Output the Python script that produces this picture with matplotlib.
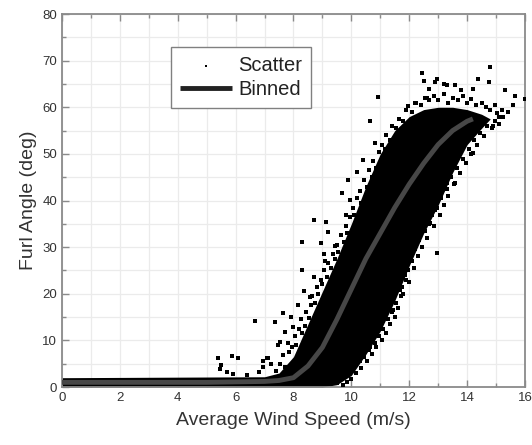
import matplotlib
matplotlib.use("Agg")
import matplotlib.pyplot as plt
import numpy as np

plt.rcParams["font.family"] = ["Liberation Sans", "DejaVu Sans"]

# ── Binned mean curve ────────────────────────────────────────────────────────
bin_speed = [0, 1, 2, 3, 4, 5, 6, 7, 7.5, 8.0, 8.5, 9.0, 9.5, 10.0, 10.5,
             11.0, 11.5, 12.0, 12.5, 13.0, 13.5, 14.0, 14.2]
bin_furl = [1.0, 1.0, 1.0, 1.0, 1.0, 1.0, 1.1, 1.2, 1.4, 2.0, 4.5, 8.5, 14.5,
            21.0, 27.5, 33.0, 38.5, 43.5, 48.0, 52.0, 55.0, 57.0, 57.5]

# ── Solid core of the scatter cloud: lower / upper edge per wind speed ───────
core_speed = [0, 7.0, 7.5, 8.0, 8.5, 9.0, 9.5, 10.0, 10.5, 11.0, 11.5, 12.0,
              12.5, 13.0, 13.5, 14.0, 14.5, 14.8]
core_hi = [2.0, 2.2, 3.0, 6.5, 13.5, 20.5, 27.5, 35.0, 43.0, 50.0, 55.0,
           58.0, 59.5, 60.0, 60.0, 59.5, 58.5, 57.5]
core_lo = [0, 0, 0, 0, 0, 0, 0.5, 2.5, 7.0, 12.0, 18.5, 26.0, 33.0, 39.0,
           46.0, 52.0, 55.5, 57.5]

# ── Speckled points along the upper-left edge of the cloud ──────────────────
left_speed = [7.4, 7.55, 7.7, 7.65, 7.85, 7.8, 7.95, 8.05, 8.1, 8.2, 8.3, 8.25,
              8.4, 8.45, 8.55, 8.6, 8.65, 8.75, 8.8, 8.85, 8.95, 9.0, 9.05,
              9.15, 9.2, 9.3, 9.35, 9.45, 9.5, 9.55, 9.65, 9.75, 9.8, 9.85,
              9.95, 10.05, 10.1, 10.2, 10.3, 10.35, 10.45, 10.55, 10.6, 10.7,
              10.75, 10.85, 10.95, 11.05, 11.15, 11.2, 11.35, 11.4, 11.55,
              11.65, 11.8, 11.9, 12.1, 12.2, 12.4, 12.55, 12.7, 12.85, 13.0,
              13.2, 13.35, 13.5, 13.7, 13.85, 14.0, 14.15, 14.3, 14.5, 14.65,
              14.8, 14.95, 15.05, 15.2]
left_furl = [3.5, 5.0, 4.2, 6.8, 7.5, 9.5, 8.5, 11.0, 9.0, 12.5, 11.5, 14.5,
             13.0, 16.0, 14.8, 17.5, 19.5, 18.0, 21.5, 20.0, 23.0, 22.0, 25.0,
             23.5, 26.5, 25.5, 28.5, 27.5, 30.5, 29.0, 32.5, 31.0, 34.5, 33.0,
             36.5, 38.5, 37.0, 40.5, 42.0, 39.5, 44.5, 43.0, 46.5, 45.0,
             48.5, 47.0, 50.5, 52.0, 51.0, 54.0, 53.0, 56.0, 55.5,
             57.5, 57.0, 59.5, 59.0, 61.0, 60.5, 62.0, 61.5, 62.5, 61.5,
             62.8, 61.0, 62.0, 61.5, 62.5, 61.0, 61.8, 60.5, 61.0, 60.0,
             59.5, 60.5, 58.8, 59.5]

# ── Speckled points along the lower-right edge of the cloud ─────────────────
right_speed = [9.5, 9.6, 9.7, 9.75, 9.9, 10.0, 10.1, 10.15, 10.3, 10.35, 10.45,
               10.55, 10.6, 10.7, 10.8, 10.85, 10.95, 11.05, 11.1, 11.2, 11.25,
               11.35, 11.4, 11.5, 11.55, 11.6, 11.7, 11.75, 11.8, 11.9, 11.95,
               12.0, 12.1, 12.15, 12.2, 12.3, 12.35, 12.45, 12.55, 12.6, 12.7,
               12.8, 12.85, 12.95, 13.05, 13.1, 13.2, 13.3, 13.35, 13.45,
               13.55, 13.65, 13.75, 13.85, 13.95, 14.05, 14.15, 14.25, 14.35,
               14.45, 14.6, 14.7, 14.85, 14.95, 15.1, 15.25]
right_furl = [0.8, 1.8, 0.5, 2.8, 3.5, 1.8, 4.5, 3.0, 5.5, 4.0, 6.5,
              5.5, 8.0, 7.0, 9.5, 8.5, 11.0, 10.0, 12.5, 11.5, 14.5,
              13.5, 16.0, 15.0, 18.0, 17.0, 19.5, 21.5, 20.0, 23.0, 25.0,
              22.5, 27.0, 25.5, 29.5, 28.0, 31.5, 30.0, 33.5, 32.0, 35.0,
              37.0, 34.5, 38.5, 37.0, 40.5, 39.0, 42.5, 41.0, 45.0,
              43.5, 47.0, 46.0, 49.0, 48.0, 51.0, 50.0, 53.0, 52.0,
              54.5, 53.8, 56.0, 55.5, 57.0, 56.5, 58.0]

# ── Isolated outliers ────────────────────────────────────────────────────────
out_speed = [5.4, 5.46, 5.5, 5.69, 5.86, 5.9, 6.09, 6.38, 6.67, 6.8, 6.96, 7.07,
             6.95, 7.13, 7.24, 7.36, 7.48, 7.53, 7.65, 7.7, 7.9, 8.0, 8.17,
             8.28, 8.3, 8.35, 8.57, 8.7, 8.72, 8.95, 9.05, 9.1, 9.11, 9.2, 9.42,
             9.66, 9.8, 9.9, 9.95, 10.18, 10.41, 10.64, 10.82, 10.93, 11.97,
             12.25, 12.43, 12.5, 12.6, 12.7, 12.89, 12.95, 13.2, 13.29, 13.58,
             13.8, 14.2, 14.39, 14.75, 14.79, 15.3, 15.65, 16.0, 15.6, 15.4,
             15.1, 14.9, 14.21, 13.58, 13.29, 13.06, 12.89, 12.72, 12.95,
             12.08, 11.91, 11.85, 11.68, 11.45, 11.28, 11.0, 10.82,
             10.64, 10.4, 10.18, 9.86]
out_furl = [6.2, 3.8, 4.7, 3.3, 6.7, 2.7, 6.2, 2.6, 14.2, 3.3, 4.4, 6.2,
            5.5, 6.2, 5.0, 14.0, 9.0, 9.6, 15.8, 11.9, 15.0, 12.9, 17.6,
            31.0, 25.1, 20.7, 19.4, 23.6, 35.8, 30.8, 28.5, 27.0, 35.3, 33.3,
            30.3, 41.7, 37.0, 44.4, 40.1, 46.2, 48.7, 57.1, 52.3, 62.3, 60.3,
            61.0, 67.3, 65.7, 62.0, 64.0, 65.5, 66.0, 65.0, 64.8, 64.8,
            63.8, 64.0, 66.0, 65.5, 68.6, 63.7, 62.4, 61.7, 60.5, 59.0,
            58.0, 56.0, 50.1, 43.7, 43.7, 40.8, 38.0, 35.1, 28.7,
            29.0, 26.9, 24.0, 20.8, 16.5, 16.9, 13.7, 12.6,
            8.6, 7.3, 5.4, 1.1]

scatter_speed = left_speed + right_speed + out_speed
scatter_furl = left_furl + right_furl + out_furl

fig, ax = plt.subplots(figsize=(5.32, 4.45), dpi=100)
fig.subplots_adjust(left=0.1165, right=0.9868, bottom=0.1303, top=0.9685)

ax.fill_between(core_speed, core_lo, core_hi, color="black", linewidth=0, zorder=2)
ax.scatter(scatter_speed, scatter_furl, s=5, marker="s", color="black",
           linewidths=0, zorder=3, label="Scatter")
ax.plot(bin_speed, bin_furl, color="#474747", linewidth=3.5,
        solid_capstyle="butt", zorder=4, label="Binned")

ax.set_xlim(0, 16)
ax.set_ylim(0, 80)
ax.set_xticks(np.arange(0, 17, 2))
ax.set_xticks(np.arange(0, 17, 1), minor=True)
ax.set_yticks(np.arange(0, 81, 10))
ax.set_yticks(np.arange(0, 81, 5), minor=True)
ax.grid(True, which="both", color="#ebebeb", linewidth=0.9, zorder=0)
ax.set_axisbelow(True)

ax.tick_params(which="both", direction="in", top=True, right=False,
               colors="#8a8a8a", labelcolor="#333333", labelsize=9.5)
ax.tick_params(which="major", length=5, width=1.0)
ax.tick_params(which="minor", length=3, width=1.0)
for sp in ax.spines.values():
    sp.set_color("#8a8a8a")
    sp.set_linewidth(1.3)

ax.set_xlabel("Average Wind Speed (m/s)", fontsize=14, color="#333333", labelpad=6)
ax.set_ylabel("Furl Angle (deg)", fontsize=14, color="#333333", labelpad=4)

leg = ax.legend(loc="upper left", bbox_to_anchor=(0.235, 0.912), borderaxespad=0,
                fontsize=14.5, fancybox=False, framealpha=1, edgecolor="#808080",
                handlelength=2.6, handletextpad=0.3, borderpad=0.45,
                labelspacing=0.25, markerscale=0.6)
leg.get_frame().set_linewidth(1.0)
for t in leg.get_texts():
    t.set_color("#222222")
leg.legend_handles[1].set_color("#222222")

plt.savefig("out.png", dpi=100)
